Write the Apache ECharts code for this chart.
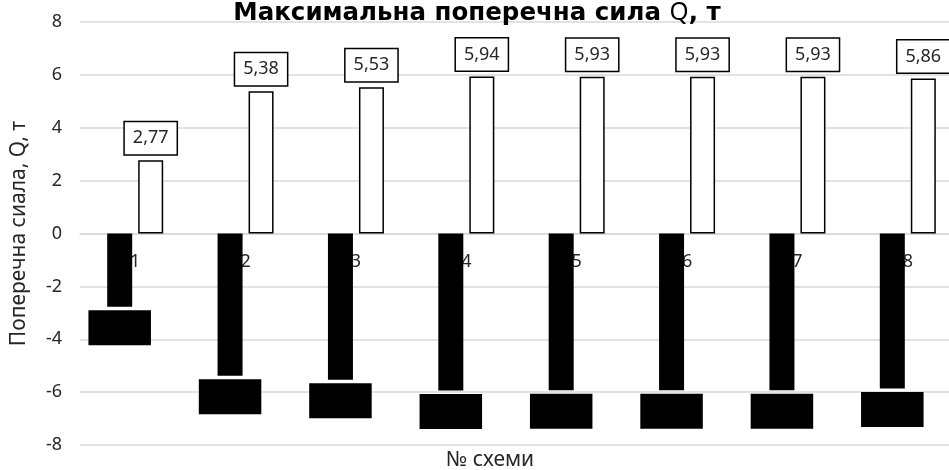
<!DOCTYPE html>
<html lang="uk">
<head>
  <meta charset="UTF-8">
  <title>Максимальна поперечна сила Q, т</title>
  <script src="https://cdn.jsdelivr.net/npm/echarts@6/dist/echarts.min.js"></script>
  <style>
    html, body { margin: 0; padding: 0; background: #fff; }
  </style>
</head>
<body>
  <div id="main" style="width: 949px;height:470px;"></div>
  <script>
    // схеми
    var schemes = ['1', '2', '3', '4', '5', '6', '7', '8'];
    // мінімальні (від'ємні) значення
    var qMin = [-2.77, -5.38, -5.53, -5.94, -5.93, -5.93, -5.93, -5.86];
    // максимальні значення
    var qMax = [2.77, 5.38, 5.53, 5.94, 5.93, 5.93, 5.93, 5.86];

    var font = 'Noto Sans';
    var myChart = echarts.init(document.getElementById('main'));

    function comma(p) {
      return String(p.value.toFixed(2)).replace('.', ',');
    }

    // вісь категорій стоїть на нулі: зсув від низу сітки (−8 → 0)
    var gridTop = 22, gridBottom = 25;
    var plotH = 470 - gridTop - gridBottom;
    var zeroShift = plotH / 2;

    var option = {
      animation: false,
      title: {
        text: 'Максимальна поперечна сила {q|Q}, т',
        left: 472,
        textAlign: 'center',
        top: -4,
        textStyle: {
          fontFamily: 'DejaVu Sans', fontSize: 24.5, fontWeight: 'bold', color: '#000',
          rich: { q: { fontFamily: font, fontSize: 24.5, fontWeight: 'normal', color: '#000' } }
        }
      },
      graphic: [{
        type: 'text',
        x: 490,
        y: 460,
        style: {
          text: '№ схеми', fontFamily: font, fontSize: 21, fill: '#262626',
          align: 'center', verticalAlign: 'middle'
        }
      }],
      grid: { left: 80, right: -14, top: gridTop, bottom: gridBottom, outerBoundsMode: 'none', containLabel: false },
      xAxis: {
        type: 'category',
        data: schemes,
        position: 'bottom',
        offset: -zeroShift,
        axisLine: { onZero: false, lineStyle: { color: '#d9d9d9', width: 1.5 } },
        axisTick: { show: false },
        axisLabel: { margin: 19, fontFamily: font, fontSize: 18, color: '#262626' }
      },
      yAxis: {
        type: 'value',
        min: -8,
        max: 8,
        interval: 2,
        name: 'Поперечна сиала, Q, т',
        nameLocation: 'middle',
        nameGap: 50,
        nameTextStyle: { fontFamily: font, fontSize: 21, color: '#262626' },
        axisLine: { show: false },
        axisLabel: { margin: 18, fontFamily: font, fontSize: 18, color: '#262626' },
        splitLine: { lineStyle: { color: '#d9d9d9', width: 1.5 } }
      },
      series: [
        {
          name: 'Qmin',
          type: 'bar',
          data: qMin,
          barWidth: 25,
          barGap: '24%',
          itemStyle: { color: '#000' },
          label: {
            show: true,
            position: 'bottom',
            distance: 5,
            formatter: comma,
            fontFamily: font,
            fontSize: 18,
            color: '#000',
            backgroundColor: '#000',
            borderColor: '#000',
            borderWidth: 1.5,
            padding: [7, 9, 7, 9]
          }
        },
        {
          name: 'Qmax',
          type: 'bar',
          data: qMax,
          barWidth: 25,
          itemStyle: { color: '#fff', borderColor: '#000', borderWidth: 1.5 },
          label: {
            show: true,
            position: 'top',
            distance: 6,
            formatter: comma,
            fontFamily: font,
            fontSize: 18,
            color: '#262626',
            backgroundColor: '#fff',
            borderColor: '#000',
            borderWidth: 1.5,
            padding: [7, 8, 7, 8]
          }
        }
      ]
    };

    myChart.setOption(option);
  </script>
</body>
</html>
